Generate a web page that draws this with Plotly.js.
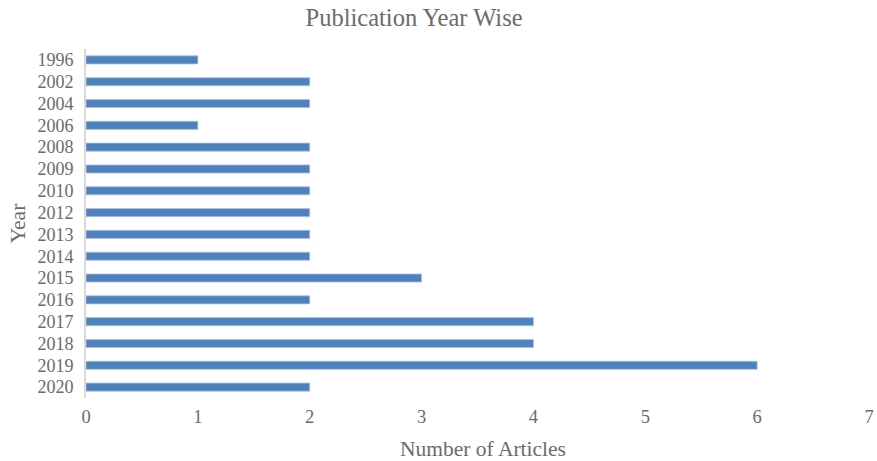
<!DOCTYPE html>
<html>
<head>
<meta charset="utf-8">
<script src="https://cdn.plot.ly/plotly-3.0.1.min.js"></script>
<style>html,body{margin:0;padding:0;background:#fff;}#chart{width:877px;height:461px;}</style>
</head>
<body>
<div id="chart"></div>
<script>
const years = ["1996","2002","2004","2006","2008","2009","2010","2012","2013","2014","2015","2016","2017","2018","2019","2020"];
const articles = [1,2,2,1,2,2,2,2,2,2,3,2,4,4,6,2];
const xTicks = [0,1,2,3,4,5,6,7];

const font = "'Liberation Serif', 'Times New Roman', serif";
const textColor = "#6b6b6b";

Plotly.newPlot("chart", [{
  type: "bar",
  orientation: "h",
  y: years,
  x: articles,
  width: 0.37,
  marker: {color: "#4f81bd", line: {color: "#a9c1e2", width: 0.8}},
  hoverinfo: "x+y"
}], {
  width: 877, height: 461,
  margin: {l: 86, r: 8, t: 49, b: 63},
  paper_bgcolor: "#fff", plot_bgcolor: "#fff",
  showlegend: false,
  title: {text: "Publication Year Wise", font: {family: font, size: 24.5, color: textColor}, xref: "paper", x: 0.419, xanchor: "center", y: 0.963, yanchor: "middle"},
  xaxis: {
    range: [0, 7], tickmode: "array", tickvals: xTicks, ticktext: xTicks.map(String),
    showgrid: false, zeroline: false, showline: false, ticks: "outside", ticklen: 2, tickcolor: "rgba(0,0,0,0)",
    tickfont: {family: font, size: 18.5, color: textColor}
  },
  yaxis: {
    type: "category", autorange: "reversed", categoryorder: "array", categoryarray: years,
    tickmode: "array", tickvals: years, ticktext: years,
    showgrid: false, zeroline: false, showline: true, linecolor: "#d9d9d9", linewidth: 2,
    ticks: "outside", ticklen: 7, tickcolor: "rgba(0,0,0,0)",
    tickfont: {family: font, size: 18, color: textColor},
    title: {text: "Year", font: {family: font, size: 21.5, color: textColor}, standoff: 6}
  },
  annotations: [{
    text: "Number of Articles", xref: "paper", yref: "paper", x: 0.507, y: -0.146,
    xanchor: "center", yanchor: "middle", showarrow: false,
    font: {family: font, size: 21.5, color: textColor}
  }]
}, {displayModeBar: false, staticPlot: true});
</script>
</body>
</html>
